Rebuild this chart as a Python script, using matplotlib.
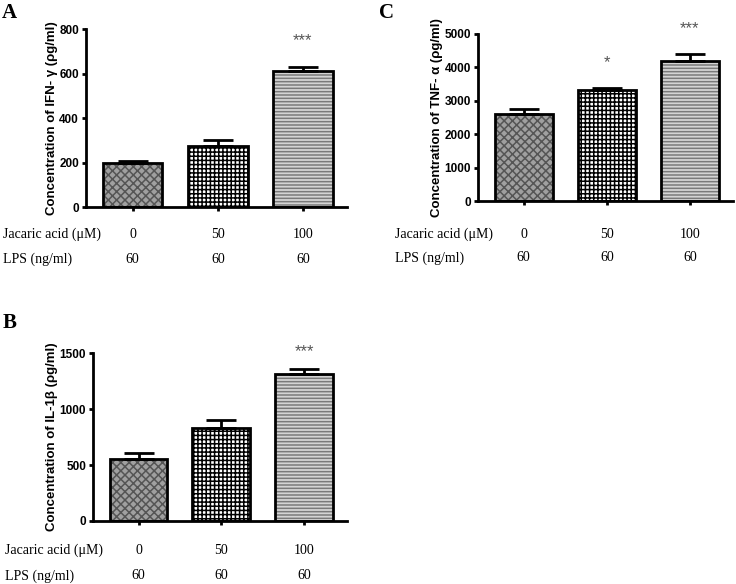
import matplotlib
matplotlib.use("Agg")
import matplotlib.pyplot as plt
import matplotlib.transforms as mtrans

# data
doses = ["0", "50", "100"]
lps = ["60", "60", "60"]

ifn_mean = [200, 275, 610]
ifn_err = [5, 25, 20]
ifn_stars = ["", "", "***"]

il1b_mean = [555, 830, 1310]
il1b_err = [50, 75, 50]
il1b_stars = ["", "", "***"]

tnf_mean = [2600, 3320, 4200]
tnf_err = [160, 60, 200]
tnf_stars = ["", "*", "***"]

plt.rcParams['hatch.linewidth'] = 1.1

fills = [
    dict(face="#a0a0a0", hatch="xxxx", hcol="#555555"),
    dict(face="white", hatch="++++", hcol="black"),
    dict(face="#d4d4d4", hatch="-----", hcol="#7a7a7a"),
]

fig = plt.figure(figsize=(7.36, 5.84), dpi=100)


def panel(rect, mean, err, stars, ymax, ystep, ylabel, letter, letter_xy,
          row_y, row_x, star_pad):
    ax = fig.add_axes(rect)
    x = list(range(len(mean)))
    for i in x:
        f = fills[i]
        ax.bar(i, mean[i], width=0.7, color=f["face"], hatch=f["hatch"],
               edgecolor=f["hcol"], linewidth=0, zorder=2)
        ax.bar(i, mean[i], width=0.7, fill=False, edgecolor="black",
               linewidth=2.0, zorder=3)
    ax.errorbar(x, mean, yerr=[[0] * len(mean), err], fmt="none",
                ecolor="black", elinewidth=2.0, capsize=10.5, capthick=2.0,
                zorder=4)
    for i in x:
        if stars[i]:
            ax.text(i, mean[i] + err[i] + star_pad * ymax, stars[i],
                    ha="center", va="center", fontsize=12, color="#555555",
                    family="Liberation Sans")
    ax.set_xlim(-0.55, 2.52)
    ax.set_ylim(0, ymax)
    ax.set_yticks(range(0, ymax + 1, ystep))
    ax.set_xticks(x)
    ax.set_xticklabels([])
    for s in ("top", "right"):
        ax.spines[s].set_visible(False)
    for s in ("left", "bottom"):
        ax.spines[s].set_linewidth(2.0)
    ax.tick_params(axis="both", direction="out", width=2.0, length=3,
                   labelsize=8.5, pad=2)
    for lab in ax.get_yticklabels():
        lab.set_fontweight("bold")
        lab.set_family("Liberation Sans")
    ax.set_ylabel(ylabel, fontsize=9.5, fontweight="bold",
                  family="Liberation Sans", labelpad=1)

    trans = mtrans.blended_transform_factory(ax.transData, ax.transAxes)
    for i in x:
        ax.text(i, row_y[0], doses[i], transform=trans, ha="center",
                va="center", fontsize=10, family="Liberation Serif")
        ax.text(i, row_y[1], lps[i], transform=trans, ha="center",
                va="center", fontsize=10, family="Liberation Serif")
    ax.text(row_x, row_y[0], "Jacaric acid (\u03bcM)", transform=ax.transAxes,
            ha="left", va="center", fontsize=10, family="Liberation Serif")
    ax.text(row_x, row_y[1], "LPS (ng/ml)", transform=ax.transAxes,
            ha="left", va="center", fontsize=10, family="Liberation Serif")
    fig.text(letter_xy[0], letter_xy[1], letter, fontsize=15,
             fontweight="bold", family="Liberation Serif", va="top",
             ha="left")
    return ax


panel([0.1168, 0.6455, 0.3547, 0.3048], ifn_mean, ifn_err, ifn_stars,
      800, 200, "Concentration of IFN- \u03b3 (\u03c1g/ml)", "A",
      (0.003, 0.995), (-0.152, -0.292), -0.318, 0.145)

panel([0.1264, 0.1079, 0.3451, 0.2876], il1b_mean, il1b_err, il1b_stars,
      1500, 500, "Concentration of IL-1\u03b2 (\u03c1g/ml)", "B",
      (0.003, 0.464), (-0.173, -0.327), -0.346, 0.10)

panel([0.6495, 0.6558, 0.3465, 0.2860], tnf_mean, tnf_err, tnf_stars,
      5000, 1000, "Concentration of TNF- \u03b1 (\u03c1g/ml)", "C",
      (0.515, 0.995), (-0.198, -0.341), -0.325, 0.15)

fig.savefig("out.png", dpi=100)
